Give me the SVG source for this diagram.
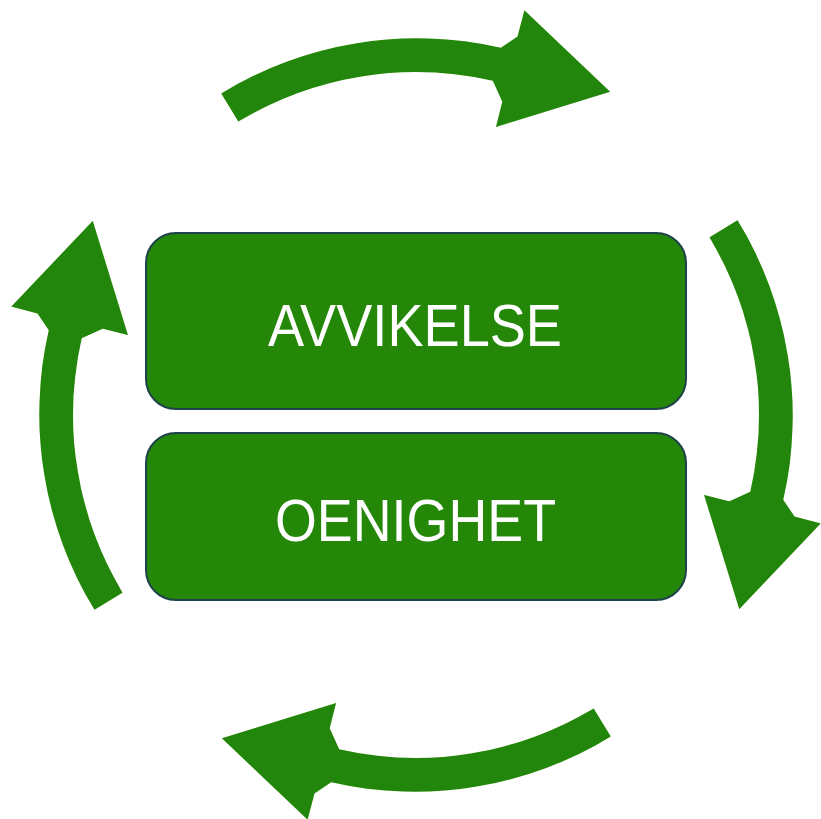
<svg xmlns="http://www.w3.org/2000/svg" xmlns:xlink="http://www.w3.org/1999/xlink" width="821" height="819" viewBox="0 0 821 819">
<style>
.box{fill:#248707;stroke:#1e424a;stroke-width:2}
.lbl{fill:#ffffff;font-family:"Liberation Sans",Arial,sans-serif;font-size:60px;text-anchor:middle}
.arr{fill:#248607}
</style>
<defs>
<filter id="soft" x="-5%" y="-5%" width="110%" height="110%"><feGaussianBlur stdDeviation="0.6"/></filter>
<path id="arc" class="arr" d="M221.2,93.4 A377,377 0 0 1 500.8,47.7 L517.5,36.4 L524.4,10.3 L610.2,91.8 L495.9,126.9 L502.3,101.7 L492.8,80.8 A343,343 0 0 0 238.3,121.6 Z"/>
</defs>
<rect width="821" height="819" fill="#ffffff"/>
<g id="connectors" filter="url(#soft)">
<use xlink:href="#arc"/>
<use xlink:href="#arc" transform="rotate(90 416 415)"/>
<use xlink:href="#arc" transform="rotate(180 416 415)"/>
<use xlink:href="#arc" transform="rotate(270 416 415)"/>
</g>
<g id="avvikelse">
<rect class="box" x="146" y="233" width="540" height="176" rx="30"/>
<text class="lbl" x="415" y="346" textLength="294" lengthAdjust="spacingAndGlyphs">AVVIKELSE</text>
</g>
<g id="oenighet">
<rect class="box" x="146" y="433" width="540" height="167" rx="30"/>
<text class="lbl" x="415.5" y="541" textLength="281" lengthAdjust="spacingAndGlyphs">OENIGHET</text>
</g>
</svg>
